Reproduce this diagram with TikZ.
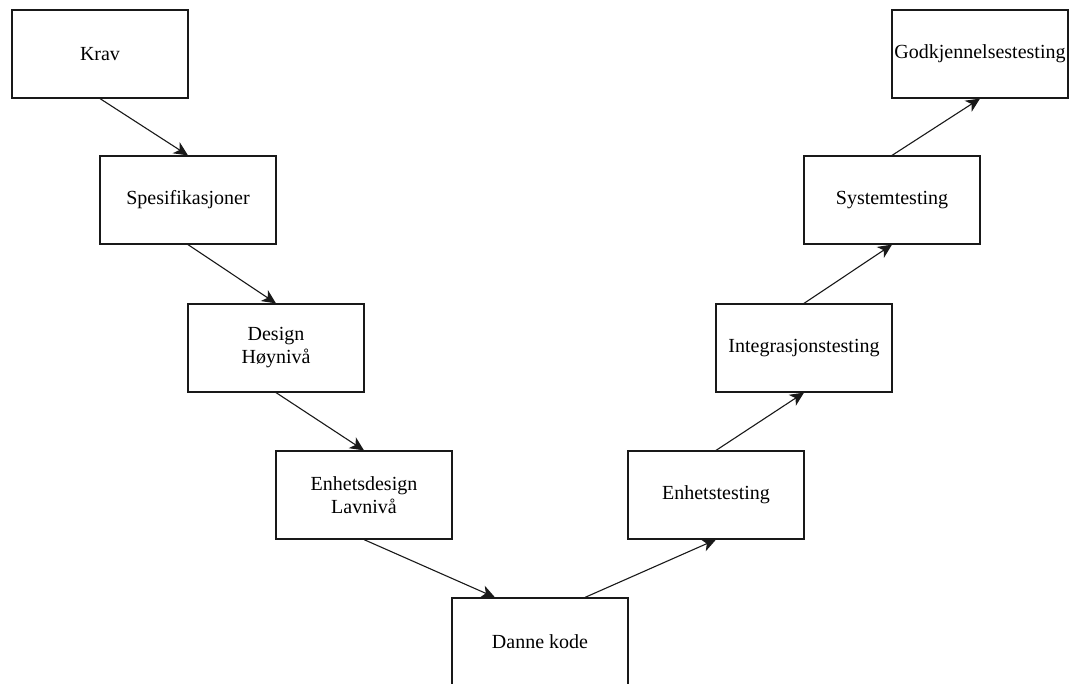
\documentclass[tikz,border=0pt]{standalone}
\usepackage{fontspec}
\setmainfont{Liberation Serif}
\usetikzlibrary{arrows.meta}
\begin{document}
\begin{tikzpicture}[x=1pt,y=-1pt,
  stage/.style={draw=black!90, line width=1.2pt, fill=white, minimum width=176pt,
    minimum height=88pt, inner sep=0pt, align=center,
    font=\fontsize{20}{23}\selectfont},
  flow/.style={draw=black!90, line width=1.1pt,
    -{Stealth[length=14pt,width=13pt,inset=4pt]}}]
  \useasboundingbox (0,0) rectangle (1069,684);
  \clip (0,0) rectangle (1069,684);
  \fill[white] (0,0) rectangle (1069,684);

  % left branch: requirements down to code
  \node[stage] (krav)   at (100,54)  {Krav};
  \node[stage] (spes)   at (188,200) {Spesifikasjoner};
  \node[stage] (hoy)    at (276,348) {Design\\Høynivå};
  \node[stage] (lav)    at (364,495) {Enhetsdesign\\Lavnivå};
  \node[stage] (kode)   at (540,642) {Danne kode};
  % right branch: testing levels
  \node[stage] (enhet)  at (716,495) {Enhetstesting};
  \node[stage] (integ)  at (804,348) {Integrasjonstesting};
  \node[stage] (system) at (892,200) {Systemtesting};
  \node[stage] (godkj)  at (980,54)  {Godkjennelsestesting};

  \coordinate (kodeinn) at ([xshift=-45pt]kode.north);
  \coordinate (kodeut)  at ([xshift=45pt]kode.north);

  \draw[flow] (krav.south)   -- (spes.north);
  \draw[flow] (spes.south)   -- (hoy.north);
  \draw[flow] (hoy.south)    -- (lav.north);
  \draw[flow] (lav.south)    -- (kodeinn);
  \draw[flow] (kodeut)       -- (enhet.south);
  \draw[flow] (enhet.north)  -- (integ.south);
  \draw[flow] (integ.north)  -- (system.south);
  \draw[flow] (system.north) -- (godkj.south);
\end{tikzpicture}
\end{document}
